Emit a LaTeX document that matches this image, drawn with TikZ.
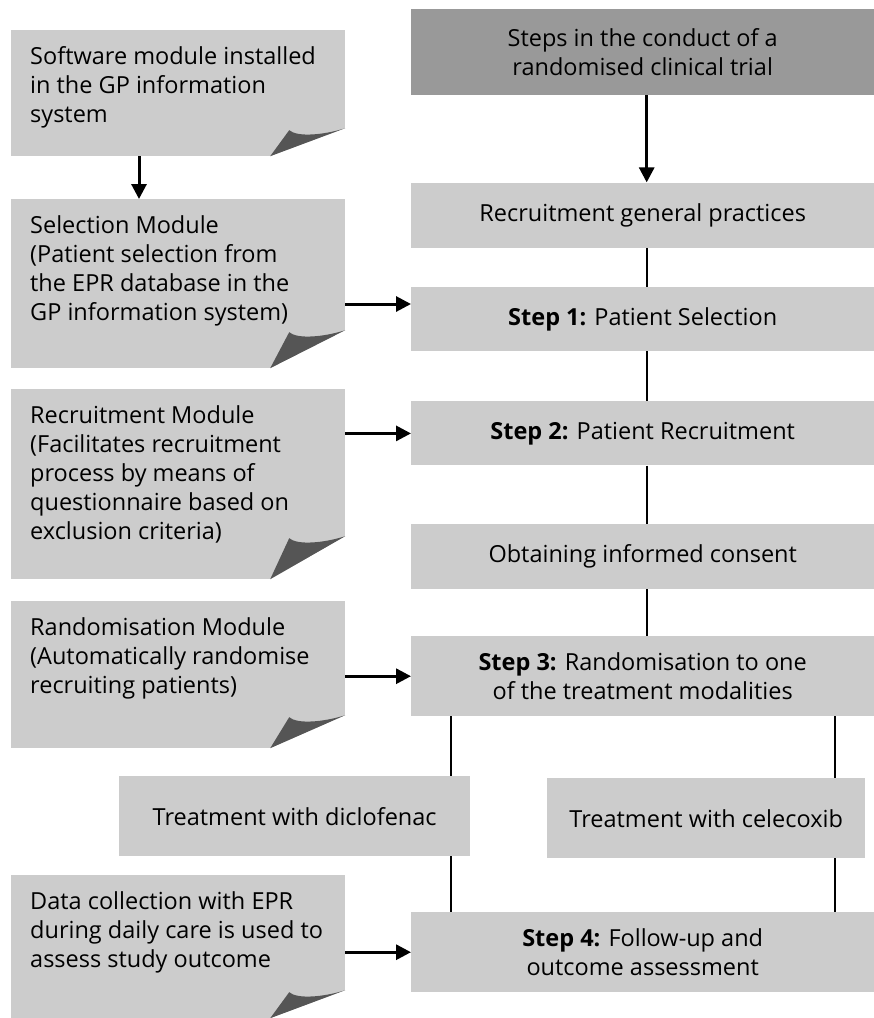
\documentclass[tikz,border=0pt]{standalone}
\usepackage{fontspec}
\setmainfont{Open Sans}
\usetikzlibrary{positioning, arrows.meta}
\definecolor{boxgrey}{HTML}{CCCCCC}
\definecolor{headgrey}{HTML}{999999}
\definecolor{flapgrey}{HTML}{555555}
\newcommand{\notebody}[2]{\parbox[t][#1][t]{296pt}{#2}}

\begin{document}
\begin{tikzpicture}[x=1pt, y=-1pt, node distance=40pt,
    font=\fontsize{23.5}{29}\selectfont,
    stepbox/.style={fill=boxgrey, anchor=north west, inner sep=0pt, align=center, minimum width=463pt},
    headbox/.style={stepbox, fill=headgrey},
    drugbox/.style={fill=boxgrey, anchor=north west, inner sep=0pt, align=center, minimum height=80pt},
    note/.style={fill=boxgrey, anchor=north west, inner xsep=19pt, inner ysep=16pt, align=left,
        path picture={
            \coordinate (se) at (path picture bounding box.south east);
            \fill[white] ([xshift=-75pt]se) -- (se) -- ([yshift=#1]se) -- cycle;
            \fill[flapgrey] ([xshift=-75pt]se) -- ([xshift=-56pt, yshift={#1-2pt}]se)
                .. controls ([xshift=-48pt, yshift={#1-9pt}]se) and ([xshift=-22pt, yshift={#1-7pt}]se) .. ([yshift=#1]se) -- cycle;
        }},
    note/.default=34pt,
    flow/.style={-{Triangle[length=15pt, width=15pt]}, line width=3pt},
    link/.style={line width=2pt}]

    \useasboundingbox (0,0) rectangle (874,1018);

    % Trial steps (right column)
    \node[headbox, minimum height=86pt] (steps) at (411,9) {Steps in the conduct of a\\randomised clinical trial};
    \node[stepbox, minimum height=65pt, below=87pt of steps] (practices) {Recruitment general practices};
    \node[stepbox, minimum height=64pt, below=39pt of practices] (step1) {\textbf{Step 1:} Patient Selection};
    \node[stepbox, minimum height=64pt, below=50pt of step1] (step2) {\textbf{Step 2:} Patient Recruitment};
    \node[stepbox, minimum height=65pt, below=58pt of step2] (consent) {Obtaining informed consent};
    \node[stepbox, minimum height=80pt, below=47pt of consent] (step3) {\textbf{Step 3:} Randomisation to one\\of the treatment modalities};
    \node[stepbox, minimum height=80pt] (step4) at (411,912) {\textbf{Step 4:} Follow-up and\\outcome assessment};

    % Treatment arms
    \node[drugbox, minimum width=351pt] (diclo) at (119,776) {Treatment with diclofenac};
    \node[drugbox, minimum width=318pt] (celeco) at (547,778) {Treatment with celecoxib};

    % Software modules (left column)
    \node[note=28pt] (software) at (11,30) {\notebody{94pt}{Software module installed\\in the GP information\\system}};
    \node[note=38pt] (selection) at (11,199) {\notebody{137pt}{Selection Module\\(Patient selection from\\the EPR database in the\\GP information system)}};
    \node[note=43pt] (recruit) at (11,389) {\notebody{158pt}{Recruitment Module\\(Facilitates recruitment\\process by means of\\questionnaire based on\\exclusion criteria)}};
    \node[note=33pt] (random) at (11,601) {\notebody{115pt}{Randomisation Module\\(Automatically randomise\\recruiting patients)}};
    \node[note=28pt] (datacoll) at (11,875) {\notebody{111pt}{Data collection with EPR\\during daily care is used to\\assess study outcome}};

    % Arrows
    \draw[flow] ([xshift=128pt]software.south west) -- ([xshift=128pt]software.south west |- selection.north);
    \coordinate (s1in) at ([yshift=15pt]step1.west);
    \draw[flow] (selection.east |- s1in) -- (s1in);
    \draw[flow] (recruit.east |- step2.west) -- (step2.west);
    \draw[flow] (random.east |- step3.west) -- (step3.west);
    \draw[flow] (datacoll.east |- step4.west) -- (step4.west);
    \draw[flow] ([xshift=4pt]steps.south) -- ([xshift=4pt]practices.north);

    % Lines between steps
    \draw[link] ([xshift=4pt]practices.south) -- ([xshift=4pt]step1.north);
    \draw[link] ([xshift=4pt]step1.south) -- ([xshift=4pt]step2.north);
    \draw[link] ([xshift=4pt]step2.south) -- ([xshift=4pt]consent.north);
    \draw[link] ([xshift=4pt]consent.south) -- ([xshift=4pt]step3.north);
    \draw[link] ([xshift=40pt]step3.south west) -- ([xshift=40pt]step3.south west |- diclo.north);
    \draw[link] ([xshift=40pt]step4.north west |- diclo.south) -- ([xshift=40pt]step4.north west);
    \draw[link] ([xshift=-39pt]step3.south east) -- ([xshift=-39pt]step3.south east |- celeco.north);
    \draw[link] ([xshift=-39pt]step4.north east |- celeco.south) -- ([xshift=-39pt]step4.north east);

\end{tikzpicture}
\end{document}
